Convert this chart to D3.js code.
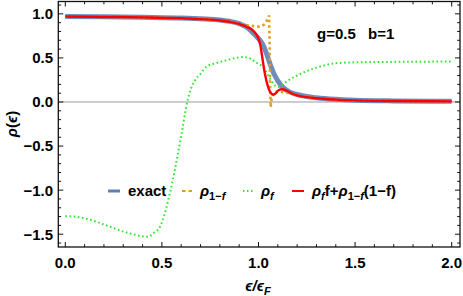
<!DOCTYPE html>
<html><head><meta charset="utf-8">
<script src="https://cdn.jsdelivr.net/npm/d3@7"></script>
<style>
body{margin:0;background:#fff;}
text{font-family:"Liberation Sans",Arial,sans-serif;font-weight:bold;fill:#000;}
</style></head>
<body><svg id="c" width="463" height="296"></svg>
<script>
// exact
const exactX = [0,0.2,0.4,0.6,0.7,0.8,0.85,0.9,0.93,0.96,0.98,1.0,1.02,1.04,1.06,1.08,1.1,1.13,1.16,1.2,1.25,1.3,1.4,1.5,1.7,2.0];
const exactY = [0.97,0.966,0.96,0.952,0.943,0.93,0.915,0.89,0.86,0.81,0.765,0.72,0.66,0.56,0.43,0.32,0.24,0.16,0.115,0.085,0.062,0.048,0.03,0.02,0.012,0.008];
// rho_{1-f}
const rho1fX = [0,0.2,0.4,0.6,0.7,0.8,0.85,0.9,0.93,0.96,0.99,1.01,1.03,1.045,1.055,1.058,1.06,1.063,1.068,1.08,1.1,1.13,1.16,1.2,1.25,1.3,1.4,1.5,1.7,2.0];
const rho1fY = [0.97,0.965,0.96,0.95,0.94,0.925,0.91,0.89,0.875,0.865,0.855,0.855,0.88,0.93,0.98,0.6,0.2,-0.06,0.04,0.11,0.12,0.11,0.1,0.077,0.056,0.043,0.027,0.018,0.011,0.007];
// rho_f
const rhofX = [0,0.05,0.1,0.15,0.2,0.25,0.3,0.35,0.4,0.43,0.455,0.49,0.516,0.533,0.556,0.58,0.602,0.631,0.65,0.671,0.7,0.73,0.78,0.83,0.88,0.92,0.95,0.98,1.0,1.024,1.04,1.06,1.08,1.1,1.12,1.15,1.2,1.25,1.3,1.35,1.4,1.5,1.7,1.9,2.0];
const rhofY = [-1.295,-1.3,-1.32,-1.35,-1.39,-1.43,-1.47,-1.5,-1.525,-1.53,-1.49,-1.415,-1.26,-1.11,-0.89,-0.62,-0.36,0.0,0.15,0.245,0.32,0.4,0.44,0.47,0.5,0.51,0.5,0.46,0.43,0.4,0.34,0.265,0.2,0.17,0.19,0.24,0.3,0.35,0.39,0.42,0.44,0.45,0.455,0.458,0.46];
// rho_f f + rho_{1-f}(1-f)
const combX = [0,0.2,0.4,0.6,0.7,0.8,0.85,0.9,0.93,0.96,0.98,1.0,1.01,1.02,1.03,1.04,1.05,1.06,1.07,1.08,1.09,1.1,1.12,1.14,1.16,1.2,1.25,1.3,1.4,1.5,1.7,2.0];
const combY = [0.97,0.965,0.96,0.95,0.94,0.925,0.91,0.885,0.86,0.83,0.79,0.72,0.64,0.5,0.36,0.25,0.17,0.115,0.09,0.085,0.1,0.125,0.145,0.135,0.11,0.075,0.055,0.042,0.027,0.018,0.011,0.007];

const xMajor = [0,0.5,1.0,1.5,2.0];
const xLabels = ["0.0","0.5","1.0","1.5","2.0"];
const yMajor = [-1.5,-1.0,-0.5,0,0.5,1.0];
const yLabels = ["\u22121.5","\u22121.0","\u22120.5","0.0","0.5","1.0"];

const svg = d3.select("#c");
const L=58.3,R=460,T=1.5,B=247;
const x = d3.scaleLinear().domain([-0.0362,2.043]).range([L,R]);
const y = d3.scaleLinear().domain([-1.645,1.14]).range([B,T]);

// zero line
svg.append("line").attr("x1",L).attr("x2",R).attr("y1",y(0)).attr("y2",y(0))
  .attr("stroke","#9a9a9a").attr("stroke-width",1);

const line = d3.line().x(d=>x(d[0])).y(d=>y(d[1])).curve(d3.curveMonotoneX);
const zip = (a,b)=>a.map((v,i)=>[v,b[i]]);
const g = svg.append("g");
g.append("path").attr("d",line(zip(exactX,exactY))).attr("fill","none")
  .attr("stroke","#5e81b5").attr("stroke-width",5).attr("stroke-opacity",0.9);
g.append("path").attr("d",d3.line().x(d=>x(d[0])).y(d=>y(d[1]))(zip(rho1fX,rho1fY))).attr("fill","none")
  .attr("stroke","#e19c24").attr("stroke-width",2.6).attr("stroke-dasharray","2.5,3");
g.append("path").attr("d",line(zip(rhofX,rhofY))).attr("fill","none")
  .attr("stroke","#2ee82e").attr("stroke-width",2).attr("stroke-dasharray","1.6,2.6");
g.append("path").attr("d",line(zip(combX,combY))).attr("fill","none")
  .attr("stroke","#ff0000").attr("stroke-width",2.4);

// frame
svg.append("rect").attr("x",L).attr("y",T).attr("width",R-L).attr("height",B-T)
  .attr("fill","none").attr("stroke","#111").attr("stroke-width",1.3);

// ticks
const xMinor = d3.range(0,21).map(i=>i/10);
const yMinor = d3.range(-16,12).map(i=>i/10);
const isMaj = (v,arr)=>arr.some(m=>Math.abs(m-v)<1e-6);
xMinor.forEach(v=>{
  const len = isMaj(v,xMajor)?5:2.8;
  svg.append("line").attr("x1",x(v)).attr("x2",x(v)).attr("y1",B).attr("y2",B-len).attr("stroke","#111").attr("stroke-width",1);
  svg.append("line").attr("x1",x(v)).attr("x2",x(v)).attr("y1",T).attr("y2",T+len).attr("stroke","#111").attr("stroke-width",1);
});
yMinor.forEach(v=>{
  const len = isMaj(v,yMajor)?5:2.8;
  svg.append("line").attr("y1",y(v)).attr("y2",y(v)).attr("x1",L).attr("x2",L+len).attr("stroke","#111").attr("stroke-width",1);
  svg.append("line").attr("y1",y(v)).attr("y2",y(v)).attr("x1",R).attr("x2",R-len).attr("stroke","#111").attr("stroke-width",1);
});
xMajor.forEach((v,i)=>{
  svg.append("text").attr("x",x(v)).attr("y",268).attr("text-anchor","middle")
    .attr("font-size",15).text(xLabels[i]);
});
yMajor.forEach((v,i)=>{
  svg.append("text").attr("x",53).attr("y",y(v)).attr("dy","0.36em").attr("text-anchor","end")
    .attr("font-size",15).text(yLabels[i]);
});

// axis labels
const xl = svg.append("text").attr("x",258).attr("y",291).attr("text-anchor","middle").attr("font-size",15);
xl.append("tspan").attr("font-style","italic").text("\u03f5/\u03f5");
xl.append("tspan").attr("font-style","italic").attr("font-size",11).attr("dy",4).text("F");
const yl = svg.append("text").attr("transform","translate(17,124) rotate(-90)").attr("text-anchor","middle").attr("font-size",15);
yl.append("tspan").attr("font-style","italic").text("\u03c1");
yl.append("tspan").text("(");
yl.append("tspan").attr("font-style","italic").text("\u03f5");
yl.append("tspan").text(")");

// annotation
svg.append("text").attr("x",317).attr("y",38.5).attr("font-size",15).text("g=0.5");
svg.append("text").attr("x",368).attr("y",38.5).attr("font-size",15).text("b=1");

// legend
const ly = 191;
const leg = svg.append("g");
leg.append("line").attr("x1",108).attr("x2",120).attr("y1",ly).attr("y2",ly).attr("stroke","#5e81b5").attr("stroke-width",3);
leg.append("text").attr("x",128).attr("y",ly+5).attr("font-size",15).text("exact");
leg.append("line").attr("x1",182).attr("x2",193).attr("y1",ly).attr("y2",ly).attr("stroke","#e19c24").attr("stroke-width",2).attr("stroke-dasharray","3.5,3");
const t2 = leg.append("text").attr("x",200).attr("y",ly+5).attr("font-size",15);
t2.append("tspan").attr("font-style","italic").text("\u03c1");
t2.append("tspan").attr("font-size",11).attr("dy",4).text("1\u2212");
t2.append("tspan").attr("font-size",11).attr("font-style","italic").text("f");
leg.append("line").attr("x1",243).attr("x2",254).attr("y1",ly).attr("y2",ly).attr("stroke","#2ee82e").attr("stroke-width",2).attr("stroke-dasharray","1.5,2.5");
const t3 = leg.append("text").attr("x",261).attr("y",ly+5).attr("font-size",15);
t3.append("tspan").attr("font-style","italic").text("\u03c1");
t3.append("tspan").attr("font-size",11).attr("dy",4).attr("font-style","italic").text("f");
leg.append("line").attr("x1",292).attr("x2",304).attr("y1",ly).attr("y2",ly).attr("stroke","#ff0000").attr("stroke-width",2);
const t4 = leg.append("text").attr("x",312).attr("y",ly+5).attr("font-size",15);
t4.append("tspan").attr("font-style","italic").text("\u03c1");
t4.append("tspan").attr("font-size",11).attr("dy",4).attr("font-style","italic").text("f");
t4.append("tspan").attr("dy",-4).text("f+");
t4.append("tspan").attr("font-style","italic").text("\u03c1");
t4.append("tspan").attr("font-size",11).attr("dy",4).text("1\u2212");
t4.append("tspan").attr("font-size",11).attr("font-style","italic").text("f");
t4.append("tspan").attr("dy",-4).text("(1\u2212f)");
</script></body></html>
